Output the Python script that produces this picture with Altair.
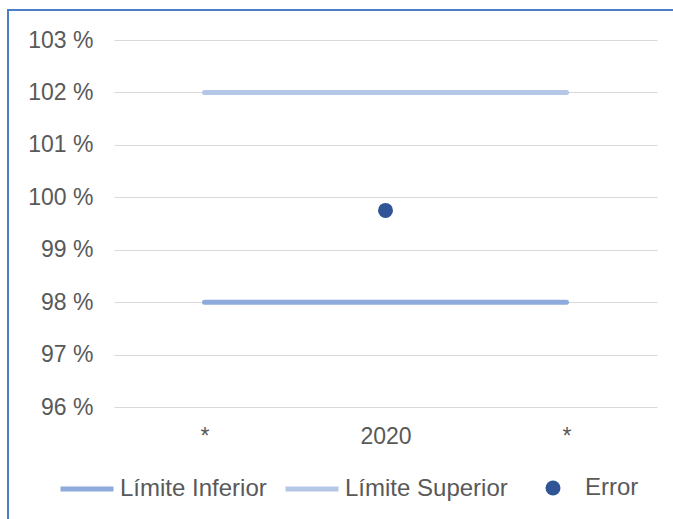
import json
import altair as alt
import pandas as pd

# ---- data ----
categories = ["*", "2020", "*"]
lower_limit = [98, 98, 98]
upper_limit = [102, 102, 102]
error_category_index = [1]
error_value = [99.75]
line_series = ["Límite Inferior", "Límite Superior"]
line_colors = ["#8FAADC", "#B4C7E7"]
point_series = ["Error"]
point_colors = ["#2F5597"]
y_ticks = [96, 97, 98, 99, 100, 101, 102, 103]

FONT = "Liberation Sans"
TEXT = "#595959"

idx = list(range(len(categories)))
lines_df = pd.DataFrame({
    "idx": idx * 2,
    "value": lower_limit + upper_limit,
    "series": [line_series[0]] * len(idx) + [line_series[1]] * len(idx),
})
point_df = pd.DataFrame({
    "idx": error_category_index,
    "value": error_value,
    "series": point_series,
})
frame_df = pd.DataFrame({"a": [0]})

label_expr = json.dumps(categories) + "[datum.value]"

x_enc = alt.X(
    "idx:O",
    scale=alt.Scale(type="point", padding=0.5),
    axis=alt.Axis(
        title=None, labelExpr=label_expr, labelAngle=0, domain=False, ticks=False,
        grid=False, labelPadding=18, labelFontSize=23, labelFont=FONT, labelColor=TEXT,
    ),
)
y_enc = alt.Y(
    "value:Q",
    scale=alt.Scale(domain=[96, 103], nice=False, zero=False),
    axis=alt.Axis(
        title=None, values=y_ticks, labelExpr="datum.value + ' %'", domain=False,
        ticks=False, grid=True, gridColor="#D9D9D9", gridWidth=1, labelPadding=21,
        labelFontSize=23, labelFont=FONT, labelColor=TEXT,
    ),
)

lines = alt.Chart(lines_df).mark_line(strokeWidth=5, strokeCap="round").encode(
    x=x_enc,
    y=y_enc,
    color=alt.Color(
        "series:N",
        scale=alt.Scale(domain=line_series, range=line_colors),
        legend=alt.Legend(
            title=None, orient="none", direction="horizontal", legendX=-56, legendY=420,
            symbolType="stroke", symbolSize=2809, symbolStrokeWidth=5, labelOffset=4,
            columnPadding=8, labelFontSize=24, labelFont=FONT, labelColor=TEXT, padding=0,
            labelLimit=0,
        ),
    ),
    detail="series:N",
)

points = alt.Chart(point_df).mark_circle(size=225, opacity=1).encode(
    x=x_enc,
    y=y_enc,
    fill=alt.Fill(
        "series:N",
        scale=alt.Scale(domain=point_series, range=point_colors),
        legend=alt.Legend(
            title=None, orient="none", direction="horizontal", legendX=427, legendY=436,
            symbolType="circle", symbolSize=225, symbolStrokeWidth=0, labelOffset=20,
            labelFontSize=24, labelFont=FONT, labelColor=TEXT, padding=0,
            symbolOpacity=1, labelLimit=0,
        ),
    ),
)

frame = alt.Chart(frame_df).mark_rect(
    filled=False, stroke="#4A7EC8", strokeWidth=2, clip=False
).encode(
    x=alt.value(-106), y=alt.value(-30), x2=alt.value(700), y2=alt.value(600)
)

chart = alt.layer(frame, lines, points).properties(
    width=543,
    height=367,
    background="white",
    autosize=alt.AutoSizeParams(type="none"),
    padding={"left": 114, "top": 40, "right": 16, "bottom": 112},
).configure_view(stroke=None)

chart.save("out.html", embed_options={"renderer": "svg", "actions": False})
